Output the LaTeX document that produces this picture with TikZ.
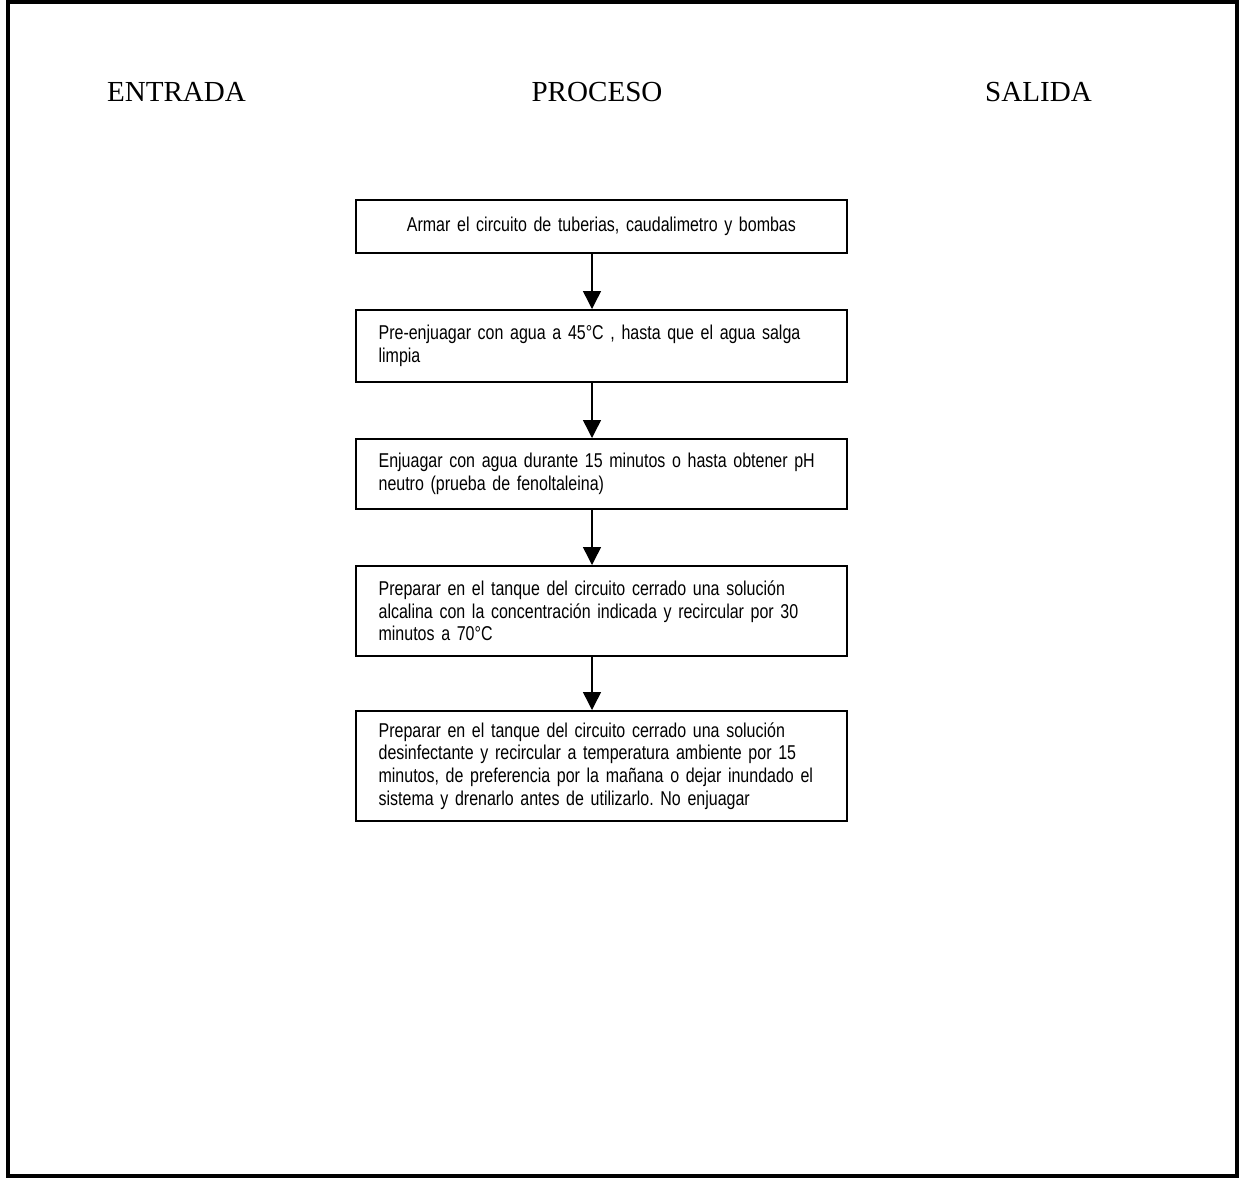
\documentclass[tikz,border=0pt]{standalone}
\usepackage{fontspec}
\setmainfont{Liberation Serif}
\newfontfamily\narrowfont[FakeStretch=0.8,WordSpace=0.8]{Liberation Sans}
\usetikzlibrary{arrows.meta}
\begin{document}
\frenchspacing
\begin{tikzpicture}[x=0.75pt,y=-0.75pt,
  title/.style={font=\fontsize{21.8}{24}\selectfont, anchor=base, inner sep=0pt},
  stepbox/.style={draw, line width=1.4pt, anchor=north west, minimum width=491*0.75pt,
     inner xsep=17pt, inner ysep=0pt, text width=491*0.75pt-34pt, align=left,
     font=\narrowfont\fontsize{15}{17}\selectfont\frenchspacing},
  arr/.style={line width=1.1pt, -{Triangle[length=13.5pt,width=13.5pt]}}]
\useasboundingbox (0,0) rectangle (1239,1179);
% frame
\draw[line width=3pt] (8,2) rectangle (1237,1176);
% titles
\node[title] (tin) at (176.5,101) {ENTRADA};
\node[title] (tproc) at (597,101) {PROCESO};
\node[title] (tout) at (1038.5,101) {SALIDA};
% boxes
\node[stepbox, align=center, minimum height=53*0.75pt] (b1) at (355,199) {Armar el circuito de tuberias, caudalimetro y bombas};
\node[stepbox, minimum height=72*0.75pt] (b2) at (355,309) {Pre-enjuagar con agua a 45°C , hasta que el agua salga\\limpia};
\node[stepbox, minimum height=70*0.75pt] (b3) at (355,438) {Enjuagar con agua durante 15 minutos o hasta obtener pH\\neutro (prueba de fenoltaleina)};
\node[stepbox, minimum height=90*0.75pt] (b4) at (355,565) {Preparar en el tanque del circuito cerrado una solución\\alcalina con la concentración indicada y recircular por 30\\minutos a 70°C};
\node[stepbox, minimum height=110*0.75pt] (b5) at (355,710) {Preparar en el tanque del circuito cerrado una solución\\desinfectante y recircular a temperatura ambiente por 15\\minutos, de preferencia por la mañana o dejar inundado el\\sistema y drenarlo antes de utilizarlo. No enjuagar};
% arrows
\coordinate (ax) at (592,0);
\draw[arr] (b1.south -| ax) -- (b2.north -| ax);
\draw[arr] (b2.south -| ax) -- (b3.north -| ax);
\draw[arr] (b3.south -| ax) -- (b4.north -| ax);
\draw[arr] (b4.south -| ax) -- (b5.north -| ax);
\end{tikzpicture}
\end{document}
